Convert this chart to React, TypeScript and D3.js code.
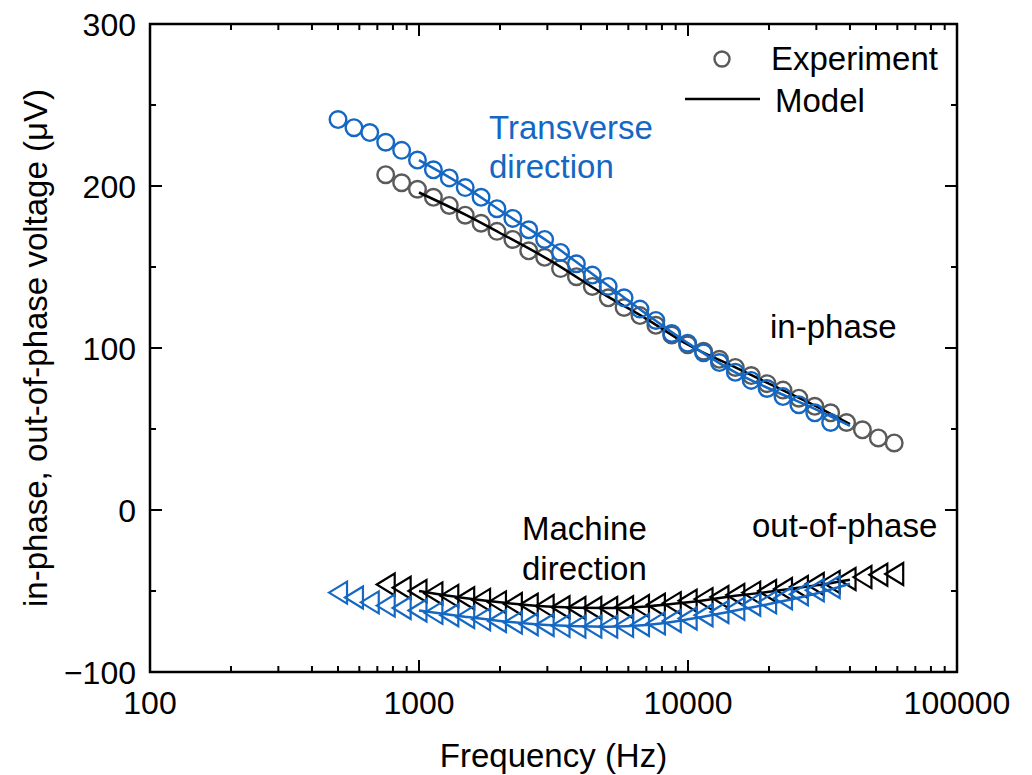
import React from "react";
import * as d3 from "d3";

// ---- data ----
const tdFreq = [500, 573, 656, 752, 862, 987, 1131, 1296, 1485, 1701, 1949, 2233, 2558, 2931, 3358, 3847, 4408, 5050, 5786, 6629, 7595, 8701, 9969, 11422, 13086, 14993, 17177, 19680, 22547, 25832, 29596, 33908];
const tdInPhase = [241, 236, 233, 227, 222, 216, 210, 205, 199, 193, 186, 180, 173, 167, 159, 152, 145, 138, 131, 124, 117, 109, 103, 97, 91, 85, 80, 75, 70, 65, 60, 54];
const tdOutPhase = [-51, -54, -57, -59, -60.5, -62, -63.5, -65, -66, -67.5, -68.5, -69.5, -70.5, -71, -71.5, -72, -72, -72, -71.5, -71, -70, -68.5, -67, -65, -63, -61, -58.5, -57, -54.5, -52, -49.5, -47.5];

const mdFreq = [752, 862, 987, 1131, 1296, 1485, 1701, 1949, 2233, 2558, 2931, 3358, 3847, 4408, 5050, 5786, 6629, 7595, 8701, 9969, 11422, 13086, 14993, 17177, 19680, 22547, 25832, 29596, 33908, 38848, 44508, 50993, 58422];
const mdInPhase = [207, 202, 198, 193, 188, 182, 177, 172, 167, 160, 156, 149, 144, 138, 131, 125, 120, 114, 108, 102, 98, 93, 88, 83, 78, 74, 69, 64, 60, 54, 49.5, 44.5, 41.4];
const mdOutPhase = [-46, -48, -50, -51.5, -53, -54.5, -55.5, -57, -58, -58.5, -59.3, -60, -60.5, -60.5, -60.5, -60, -59.3, -58.5, -57.5, -56, -55, -53.7, -52.5, -51, -50, -48.8, -47.5, -45.7, -44.4, -42.6, -41.4, -40, -39.5];

const modelFreq = [1000, 1500, 2000, 3000, 5000, 7000, 10000, 15000, 20000, 30000, 40000];
const mdModelIn = [196, 182, 171, 155, 132, 118, 102, 88, 78, 64, 53];
const tdModelIn = [216, 199, 185, 166, 139, 121, 103, 85, 75, 62, 52];
const mdModelOut = [-50, -54.5, -57, -59.5, -60.5, -59.5, -57, -53, -50.5, -46.5, -43];
const tdModelOut = [-62, -66, -68.5, -71, -72, -71, -67.5, -62, -58, -51.5, -45.5];

const xTicks = [100, 1000, 10000, 100000];
const yTicks = [-100, 0, 100, 200, 300];
const yMinor = [-50, 50, 150, 250];

const BLUE = "#1468c4";
const GRAY = "#5a5a5a";
const FONT = "'Liberation Sans', Arial, sans-serif";

export default function App() {
  const W = 1032, H = 775;
  const L = 150, R = 957, T = 24, B = 672;
  const x = d3.scaleLog().domain([100, 100000]).range([L, R]);
  const y = d3.scaleLinear().domain([-100, 300]).range([B, T]);

  const xMinor: number[] = [];
  [100, 1000, 10000].forEach((d) => {
    for (let k = 2; k <= 9; k++) xMinor.push(d * k);
  });

  const line = d3
    .line<[number, number]>()
    .x((d) => x(d[0]))
    .y((d) => y(d[1]))
    .curve(d3.curveMonotoneX);

  const zip = (f: number[], v: number[]) => f.map((d, i) => [d, v[i]] as [number, number]);

  const tri = (cx: number, cy: number) => {
    const w = 18, h = 22;
    return `M${cx - w / 2},${cy} L${cx + w / 2},${cy - h / 2} L${cx + w / 2},${cy + h / 2} Z`;
  };

  const r = 8.3;
  const fs = 33;
  const tfs = 32;

  return (
    <svg width={W} height={H} style={{ display: "block", position: "absolute", left: 0, top: 0 }} fontFamily={FONT}>
      <rect x={0} y={0} width={W} height={H} fill="#fff" />
      {zip(mdFreq, mdInPhase).map((d, i) => (
        <circle key={"mi" + i} cx={x(d[0])} cy={y(d[1])} r={r} fill="none" stroke={GRAY} strokeWidth={2.4} />
      ))}
      {zip(mdFreq, mdOutPhase).map((d, i) => (
        <path key={"mo" + i} d={tri(x(d[0]), y(d[1]))} fill="none" stroke="#000" strokeWidth={2.2} />
      ))}
      <path d={line(zip(modelFreq, mdModelIn)) || ""} fill="none" stroke="#000" strokeWidth={2.5} />
      <path d={line(zip(modelFreq, mdModelOut)) || ""} fill="none" stroke="#000" strokeWidth={2.5} />
      {zip(tdFreq, tdInPhase).map((d, i) => (
        <circle key={"ti" + i} cx={x(d[0])} cy={y(d[1])} r={r} fill="none" stroke={BLUE} strokeWidth={2.4} />
      ))}
      {zip(tdFreq, tdOutPhase).map((d, i) => (
        <path key={"to" + i} d={tri(x(d[0]), y(d[1]))} fill="none" stroke={BLUE} strokeWidth={2.2} />
      ))}
      <path d={line(zip(modelFreq, tdModelIn)) || ""} fill="none" stroke={BLUE} strokeWidth={2.5} />
      <path d={line(zip(modelFreq, tdModelOut)) || ""} fill="none" stroke={BLUE} strokeWidth={2.5} />

      {/* frame */}
      <rect x={L} y={T} width={R - L} height={B - T} fill="none" stroke="#000" strokeWidth={2.5} />
      {xTicks.map((t) => (
        <g key={"xt" + t}>
          <line x1={x(t)} x2={x(t)} y1={B} y2={B - 12} stroke="#000" strokeWidth={2} />
          <line x1={x(t)} x2={x(t)} y1={T} y2={T + 12} stroke="#000" strokeWidth={2} />
          <text x={x(t)} y={B + 42} textAnchor="middle" fontSize={tfs}>{t}</text>
        </g>
      ))}
      {xMinor.map((t) => (
        <g key={"xm" + t}>
          <line x1={x(t)} x2={x(t)} y1={B} y2={B - 6} stroke="#000" strokeWidth={2} />
          <line x1={x(t)} x2={x(t)} y1={T} y2={T + 6} stroke="#000" strokeWidth={2} />
        </g>
      ))}
      {yTicks.map((t) => (
        <g key={"yt" + t}>
          <line x1={L} x2={L + 12} y1={y(t)} y2={y(t)} stroke="#000" strokeWidth={2} />
          <line x1={R} x2={R - 12} y1={y(t)} y2={y(t)} stroke="#000" strokeWidth={2} />
          <text x={L - 14} y={y(t) + 11.5} textAnchor="end" fontSize={tfs}>{t < 0 ? "\u2212" + Math.abs(t) : t}</text>
        </g>
      ))}
      {yMinor.map((t) => (
        <g key={"ym" + t}>
          <line x1={L} x2={L + 6} y1={y(t)} y2={y(t)} stroke="#000" strokeWidth={2} />
          <line x1={R} x2={R - 6} y1={y(t)} y2={y(t)} stroke="#000" strokeWidth={2} />
        </g>
      ))}

      {/* axis titles */}
      <text x={(L + R) / 2} y={767} textAnchor="middle" fontSize={fs}>Frequency (Hz)</text>
      <text transform={`translate(47,${(T + B) / 2}) rotate(-90)`} textAnchor="middle" fontSize={fs}>
        in-phase, out-of-phase voltage (μV)
      </text>

      {/* annotations */}
      <text x={489} y={139} fontSize={fs} fill={BLUE}>Transverse</text>
      <text x={489} y={178} fontSize={fs} fill={BLUE}>direction</text>
      <text x={770} y={338} fontSize={fs}>in-phase</text>
      <text x={522} y={540} fontSize={fs}>Machine</text>
      <text x={522} y={580} fontSize={fs}>direction</text>
      <text x={752} y={537} fontSize={fs}>out-of-phase</text>

      {/* legend */}
      <circle cx={722} cy={59} r={7.5} fill="none" stroke={GRAY} strokeWidth={2.4} />
      <text x={771} y={70} fontSize={fs}>Experiment</text>
      <line x1={685} x2={760} y1={99} y2={99} stroke="#000" strokeWidth={2.5} />
      <text x={775} y={112} fontSize={fs}>Model</text>
    </svg>
  );
}
